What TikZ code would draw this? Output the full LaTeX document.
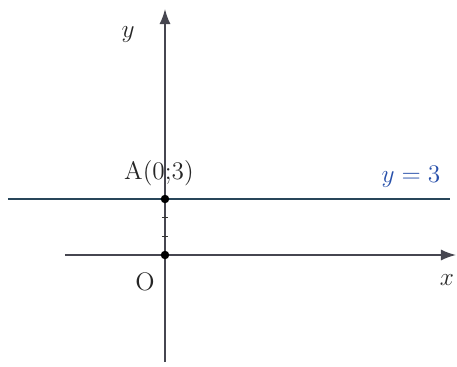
\documentclass[tikz,border=0pt]{standalone}
\usepackage{xcolor}
\usetikzlibrary{arrows.meta,positioning}
\definecolor{axisgray}{RGB}{70,70,80}
\definecolor{linecol}{RGB}{40,70,90}
\definecolor{penblue}{RGB}{40,80,170}
\tikzset{
    axis/.style={draw=axisgray, line width=0.9pt},
    ptdot/.style={circle, fill=black, inner sep=0pt, minimum size=0.17cm},
    axlabel/.style={font=\Large, text=black!85},
    tickmark/.style={draw=black!80, line width=0.8pt},
}
\begin{document}
\begin{tikzpicture}[
            >={Latex[length=3mm,width=2.2mm]}
        ]
            \useasboundingbox (-3.30,-2.22) rectangle (5.84,5.10);
            % axes
            \coordinate (xs) at (-2.00,0);
            \coordinate (xe) at (5.82,0);
            \coordinate (ys) at (0,-2.14);
            \coordinate (ye) at (0,4.92);
            \draw[axis, ->] (xs) -- (xe);
            \draw[axis, ->] (ys) -- (ye);
            % the line y = 3
            \coordinate (ls) at (-3.14,1.12);
            \coordinate (le) at (5.70,1.12);
            \draw[draw=linecol, line width=0.9pt] (ls) -- (le);
            % ticks
            \foreach \k in {1,2}
                \draw[tickmark] (-0.06,0.373*\k) -- (0.06,0.373*\k);
            % points
            \node[ptdot] (A) at (0,1.12) {};
            \node[ptdot] (O) at (0,0) {};
            % labels
            \node[axlabel] (ylab) at (-0.74,4.40) {$y$};
            \node[axlabel] (xlab) at (5.64,-0.50) {$x$};
            \node[axlabel] (olab) at (-0.40,-0.54) {O};
            \node[axlabel, anchor=south] (alab) at ([xshift=-0.12cm,yshift=0.05cm]A.north) {A(0;3)};
            \node[axlabel, text=penblue] (eqlab) at (4.92,1.56) {$y = 3$};
        \end{tikzpicture}
\end{document}
